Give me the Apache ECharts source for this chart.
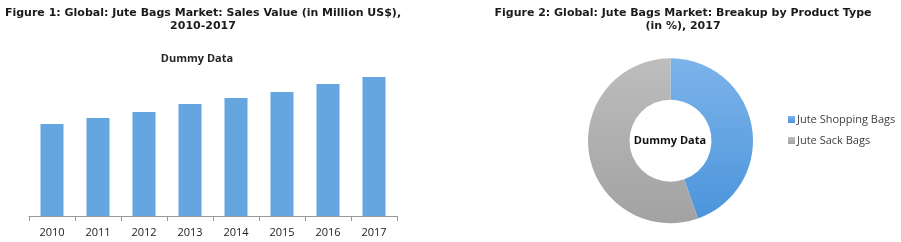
<!DOCTYPE html>
<html><head><meta charset="utf-8">
<script src="https://cdn.jsdelivr.net/npm/echarts@6/dist/echarts.min.js"></script>
<style>html,body{margin:0;padding:0;background:#fff}#c{width:901px;height:242px}</style>
</head><body><div id="c"></div>
<script>
var categories = ['2010','2011','2012','2013','2014','2015','2016','2017'];
var salesValues = [92, 98, 104, 112, 118, 124, 132, 139];
var pieNames = ['Jute Shopping Bags', 'Jute Sack Bags'];
var pieValues = [44.6, 55.4];

var chart = echarts.init(document.getElementById('c'), null, {renderer:'canvas'});
var titleFont = 'Verdana, "DejaVu Sans", sans-serif';
chart.setOption({
  animation: false,
  title: [
    {text: 'Figure 1: Global: Jute Bags Market: Sales Value (in Million US$),\n2010-2017', left: 198, top: 2, textAlign: 'center',
     textStyle: {fontFamily: titleFont, fontWeight: 'bold', fontSize: 11, color: '#1a1a1a', lineHeight: 13}},
    {text: 'Dummy Data', left: 192, top: 48, textAlign: 'center',
     textStyle: {fontFamily: '"Open Sans", sans-serif', fontWeight: 'bold', fontSize: 11, color: '#262626'}},
    {text: 'Figure 2: Global: Jute Bags Market: Breakup by Product Type\n(in %), 2017', left: 678, top: 2, textAlign: 'center',
     textStyle: {fontFamily: titleFont, fontWeight: 'bold', fontSize: 11, color: '#1a1a1a', lineHeight: 13}},
    {text: 'Dummy Data', left: 665, top: 130, textAlign: 'center',
     textStyle: {fontFamily: '"Open Sans", sans-serif', fontWeight: 'bold', fontSize: 11, color: '#111'}}
  ],
  grid: {left: 29, width: 368, top: 56, height: 160},
  xAxis: {type: 'category', data: categories,
    axisLine: {lineStyle: {color: '#999', width: 1}},
    axisTick: {show: true, length: 5, lineStyle: {color: '#999'}},
    axisLabel: {color: '#1a1a1a', fontSize: 11, fontFamily: '"Open Sans", sans-serif', margin: 11}},
  yAxis: {type: 'value', min: 0, max: 160, show: false, splitLine: {show: false}},
  legend: {orient: 'vertical', left: 783, top: 109, itemWidth: 7, itemHeight: 7, itemGap: 10, icon: 'rect',
    textStyle: {color: '#404040', fontSize: 11, fontFamily: '"Open Sans", sans-serif', padding: [0,0,0,-3]},
    data: pieNames},
  series: [
    {type: 'bar', data: salesValues, barWidth: '50%',
     itemStyle: {color: '#65a5e0'}},
    {type: 'pie', center: [670.5, 140.7], radius: [41, 82.5], startAngle: 90, clockwise: true,
     label: {show: false}, labelLine: {show: false},
     data: pieNames.map(function(n, i){
       var colors = [
         new echarts.graphic.LinearGradient(0,0,0,1,[{offset:0,color:'#7cb3ea'},{offset:1,color:'#4c95db'}]),
         new echarts.graphic.LinearGradient(0,0,0,1,[{offset:0,color:'#bdbdbd'},{offset:1,color:'#a2a2a2'}])
       ];
       return {name: n, value: pieValues[i], itemStyle: {color: colors[i]}};
     })}
  ]
});
</script></body></html>
